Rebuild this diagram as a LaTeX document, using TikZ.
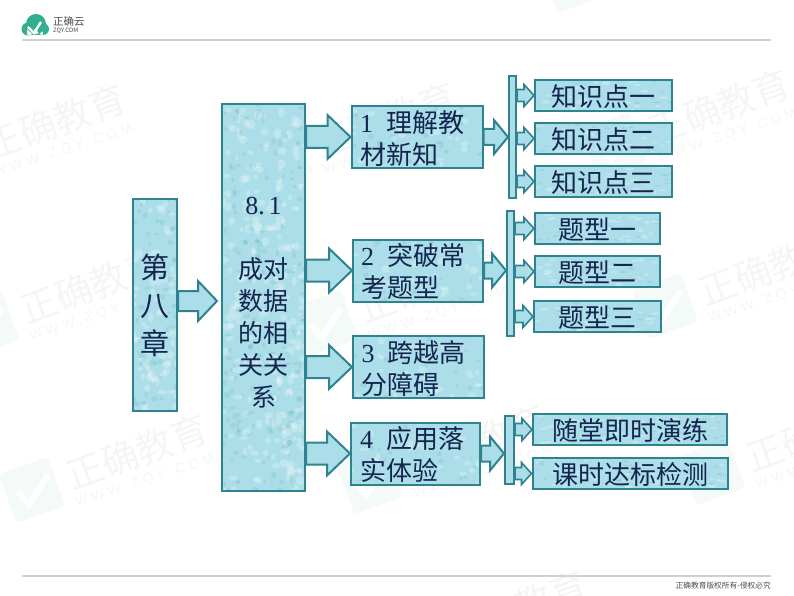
\documentclass[tikz,border=0pt]{standalone}
\usepackage{fontspec}
\setmainfont{Noto Sans CJK SC}
\newfontfamily\numfont{Liberation Serif}
\newfontfamily\markfont[LetterSpace=28]{Liberation Sans}
\usetikzlibrary{positioning, calc}
\definecolor{boxfill}{HTML}{ABDEE8}
\definecolor{boxline}{HTML}{2F8391}
\definecolor{inktext}{HTML}{14264F}
\definecolor{logogreen}{HTML}{33AE90}
\definecolor{markgray}{HTML}{F4F6F5}
\definecolor{markbadgefill}{HTML}{F4FAF8}
\newcommand{\bigtext}{\fontsize{26}{32}\selectfont}

\begin{document}
\begin{tikzpicture}[
    x=1pt, y=-1pt,
    node distance=10pt,
    drops/.style 2 args={path picture={
        \path (path picture bounding box.south west) coordinate (sw) (path picture bounding box.north east) coordinate (ne);
        \foreach \k in {1,...,#1} {
            \fill[white, opacity=0.24] let \p1=(sw), \p2=(ne) in ({\x1+rnd*(\x2-\x1)},{\y1+rnd*(\y2-\y1)}) circle [x radius=2+3*rnd, y radius=(2+3*rnd)*#2];
            \fill[boxline, opacity=0.11] let \p1=(sw), \p2=(ne) in ({\x1+rnd*(\x2-\x1)},{\y1+rnd*(\y2-\y1)}) circle [x radius=1+2.5*rnd, y radius=(1+2.5*rnd)*#2];
        }}},
    box/.style={rectangle, draw=boxline, line width=2pt, fill=boxfill, inner sep=0pt, text=inktext, font=\bigtext, align=center},
    leafbox/.style={box, minimum width=137pt, minimum height=31pt, drops={30}{0.35},
        execute at begin node={\rule{0pt}{25pt}}},
    midbox/.style={box, align=left, text width=114pt, minimum width=131pt, minimum height=62pt, drops={30}{0.8},
        execute at begin node={\rule{0pt}{25pt}}},
    spine/.style={rectangle, draw=boxline, line width=2pt, fill=boxfill, minimum width=7pt},
    blockarrow/.style n args={3}{draw=boxline, line width=2pt, fill=boxfill, to path={
        let \p1=(\tikztostart), \p2=(\tikztotarget) in
        ({\x1},{\y1+#2}) -- ({\x2-#1},{\y1+#2}) -- ({\x2-#1},{\y1+#3}) -- ({\x2},{\y1}) --
        ({\x2-#1},{\y1-#3}) -- ({\x2-#1},{\y1-#2}) -- ({\x1},{\y1-#2}) -- cycle}},
    bigarrow/.style={blockarrow={23pt}{11pt}{22pt}},
    chapterarrow/.style={blockarrow={19pt}{10pt}{20pt}},
    midarrow/.style={blockarrow={14pt}{8pt}{17pt}},
    smallarrow/.style={blockarrow={10pt}{6pt}{11pt}, line width=1.6pt},
    watermark/.style={text=markgray, rotate=20, inner sep=0pt, font=\fontsize{37}{38}\selectfont},
    markurl/.style={text=markgray, rotate=18, inner sep=0pt, font=\markfont\fontsize{14}{15}\selectfont},
    markbadge/.style={fill=markbadgefill, rotate=20, rounded corners=4pt, minimum size=52pt, inner sep=0pt}
]
\pgfmathsetseed{8}
\useasboundingbox (0,0) rectangle (794,596);

% Watermarks
\foreach \i/\px/\py in {1/55/122, 2/91/286, 3/137/452, 4/385/120, 5/430/285, 6/475/443, 7/516/608, 8/719/107, 9/770/268, 10/817/434} {
    \node[watermark] (mark\i) at (\px,\py) {正确教育};
    \node[markurl] (markurl\i) at ($(mark\i.center)+(8,29)$) {WWW.ZQY.COM};
    \node[markbadge] (markbadge\i) at ($(mark\i.center)+(-105,38)$) {};
    \draw[white, line width=6pt] ($(markbadge\i.center)+(-14,2)$) -- ($(markbadge\i.center)+(-3,14)$) -- ($(markbadge\i.center)+(16,-15)$);
}
\node[markbadge] (markbadgetop) at (573,-20) {};

% Header and footer
\fill[logogreen] (28,29) circle [radius=6.5] (36,24) circle [radius=10] (43,29) circle [radius=6] (27,29) rectangle (43,35);
\draw[white, line width=2.4pt] (28,27) -- (34,33) -- (41,22);
\node[inner sep=0pt, anchor=west, text=black!70, font=\fontsize{10.5}{11}\selectfont] (logoname) at (53,22) {正确云};
\node[inner sep=0pt, anchor=west, text=black!70, font=\fontsize{6}{7}\selectfont] (logourl) at (53,31) {ZQY.COM};
\draw[black!18, line width=2pt] (22,40.5) -- (771,40.5);
\draw[black!18, line width=2pt] (22,575.5) -- (771,575.5);
\node[inner sep=0pt, anchor=east, text=black!70, font=\fontsize{7.7}{8}\selectfont] (rights) at (771,586) {正确教育版权所有-侵权必究};

% Nodes
\node[box, minimum width=44pt, minimum height=212pt, drops={70}{1}, font=\fontsize{29}{38}\selectfont] (chapter) at (155,305) {第\\八\\章};
\node[box, minimum width=83pt, minimum height=387pt, drops={220}{1}, font=\fontsize{25}{32}\selectfont] (section) at (263.5,297.5) {\rule{0pt}{27pt}{\numfont\fontsize{26}{32}\selectfont 8.\kern4pt 1}\\[32pt]成对\\数据\\的相\\关关\\系};

\node[midbox] (part1) at (417,137) {{\numfont 1}\hspace{13pt}理解教\\材新知};
\node[midbox, minimum width=130pt] (part2) at (418,270.5) {{\numfont 2}\hspace{13pt}突破常\\考题型};
\node[midbox] (part3) at (418.5,367) {{\numfont 3}\hspace{13pt}跨越高\\分障碍};
\node[midbox, minimum width=129pt, text width=111pt] (part4) at (415.5,453.5) {{\numfont 4}\hspace{13pt}应用落\\实体验};

\node[spine, minimum height=122pt] (spine1) at (512.5,137) {};
\node[spine, minimum height=125pt] (spine2) at (510.5,273.5) {};
\node[spine, minimum width=9pt, minimum height=68pt] (spine4) at (509.5,450) {};

\node[leafbox] (point1) at (603.5,95.5) {知识点一};
\node[leafbox, below=of point1] (point2) {知识点二};
\node[leafbox, below=of point2] (point3) {知识点三};

\node[leafbox, minimum width=125pt] (kind1) at (597.5,228.5) {题型一};
\node[leafbox, minimum width=125pt, below=of kind1] (kind2) {题型二};
\node[leafbox, minimum width=127pt, below=12pt of kind2] (kind3) {题型三};

\node[leafbox, minimum width=194pt, drops={40}{0.35}] (drill1) at (630,429.5) {随堂即时演练};
\node[leafbox, minimum width=195pt, drops={40}{0.35}, below=11pt of drill1] (drill2) {课时达标检测};

\coordinate (chaptertip) at (217,301);

% Connections
\draw[chapterarrow] (chapter.east |- chaptertip) to (chaptertip);
\draw[bigarrow] (section.east |- part1.west) to (part1.west);
\draw[bigarrow] (section.east |- part2.west) to (part2.west);
\draw[bigarrow] (section.east |- part3.west) to (part3.west);
\draw[bigarrow] (section.east |- part4.west) to (part4.west);

\draw[midarrow] (part1.east) to (spine1.west |- part1.east);
\draw[midarrow] (part2.east) to (spine2.west |- part2.east);
\draw[midarrow] (part4.east) to (spine4.west |- part4.east);

\foreach \leaf in {point1, point2, point3}
    \draw[smallarrow] (spine1.east |- \leaf.west) to (\leaf.west);
\foreach \leaf in {kind1, kind2, kind3}
    \draw[smallarrow] (spine2.east |- \leaf.west) to (\leaf.west);
\foreach \leaf in {drill1, drill2}
    \draw[smallarrow] (spine4.east |- \leaf.west) to (\leaf.west);

\end{tikzpicture}
\end{document}
